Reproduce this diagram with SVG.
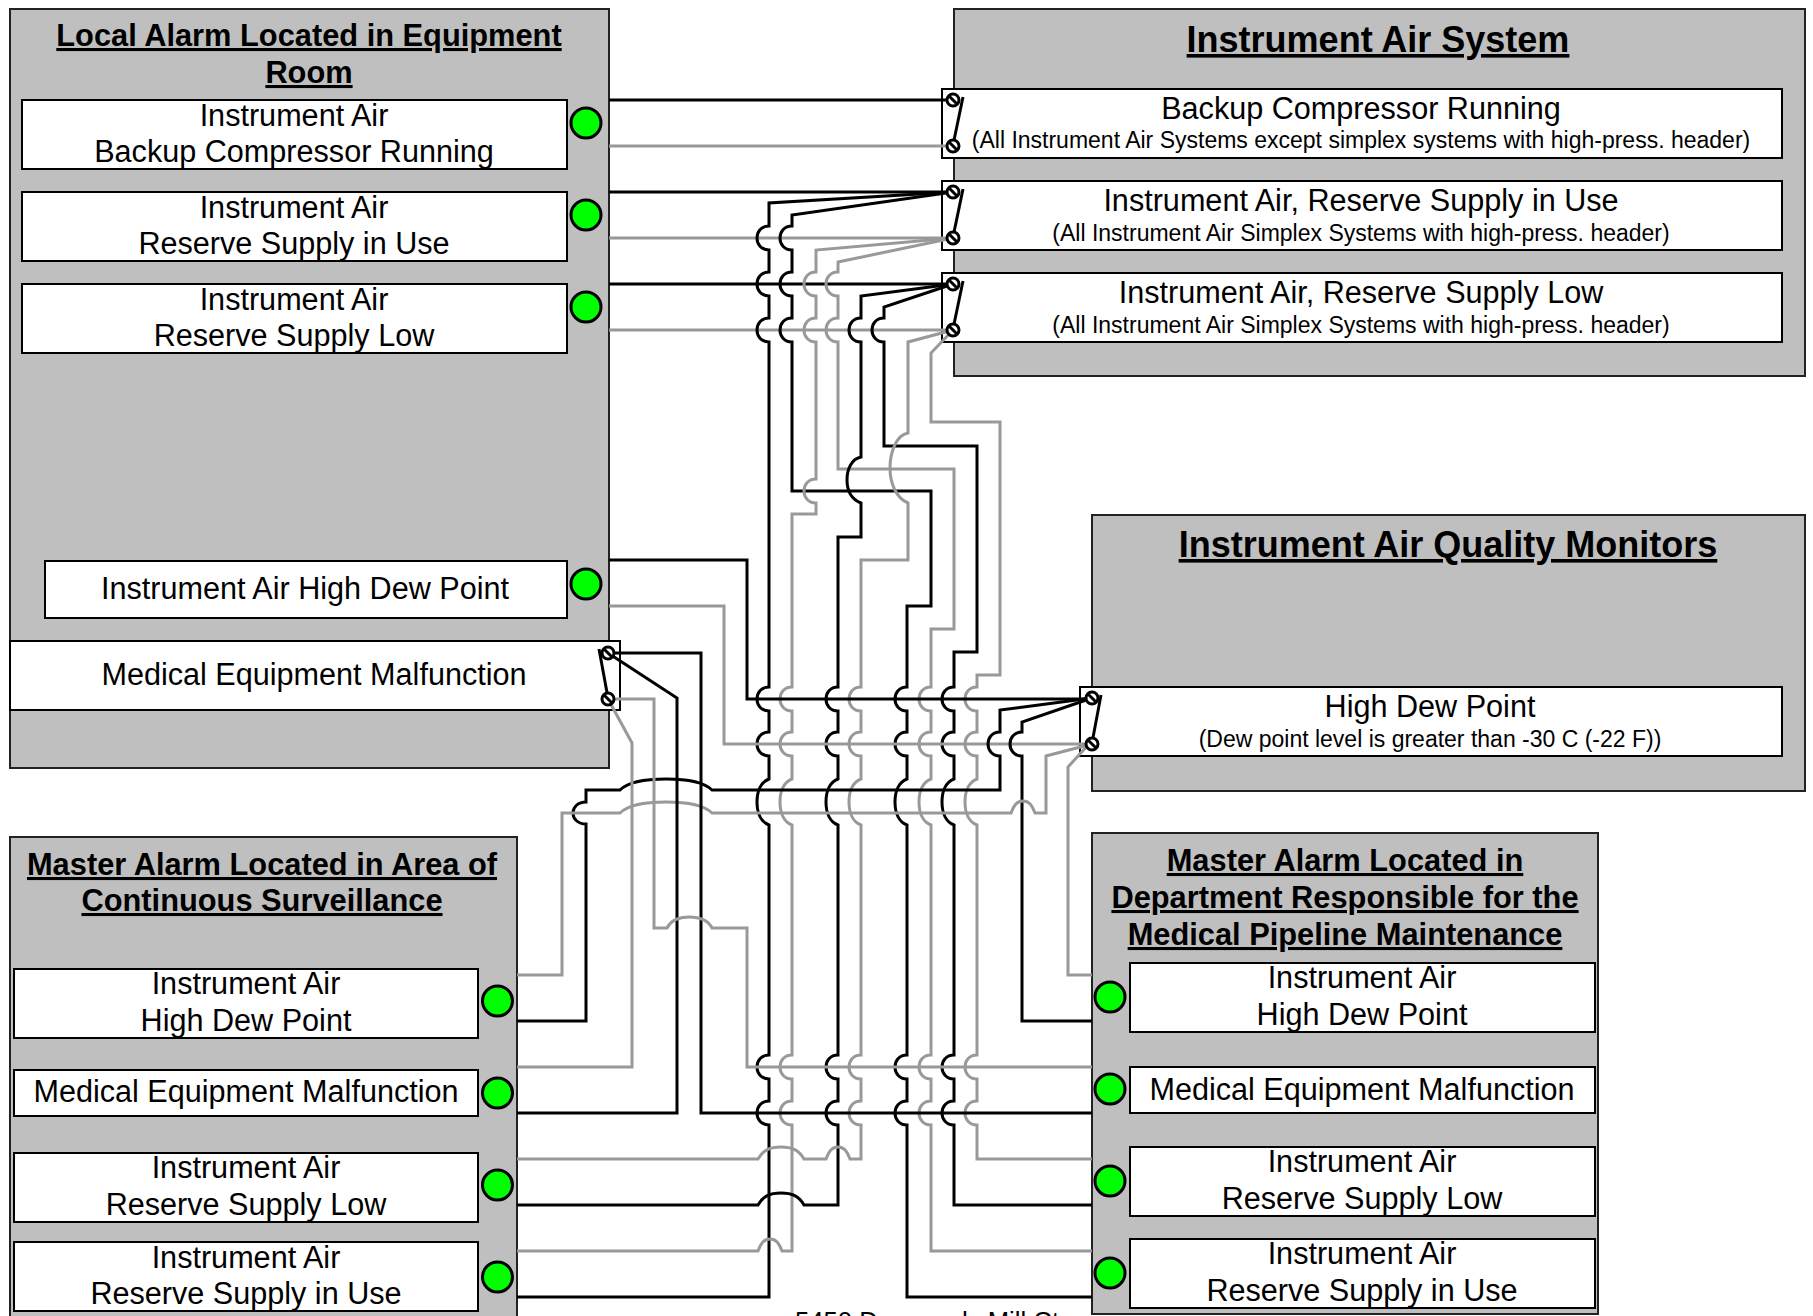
<svg xmlns="http://www.w3.org/2000/svg" width="1813" height="1316" viewBox="0 0 1813 1316">
<style>
text{font-family:"Liberation Sans",Arial,sans-serif;fill:#000;text-anchor:middle}
.l{font-size:30.6px}
.s{font-size:23px}
.t{font-size:30.800px;font-weight:bold;text-decoration:underline}
.T{font-size:36px;font-weight:bold;text-decoration:underline}
.p{fill:#bfbfbf;stroke:#222;stroke-width:2}
.b{fill:#fff;stroke:#000;stroke-width:2}
.k{fill:none;stroke:#000;stroke-width:3}
.g{fill:none;stroke:#999;stroke-width:3}
.d{fill:#0f0;stroke:#000;stroke-width:3}
.c{fill:#fff;stroke:#000;stroke-width:3}
.w{fill:none;stroke:#000;stroke-width:3}
</style>
<defs>
<g id="sw"><circle r="6" class="c"/><path d="M-4.500,-4.500L4.500,4.500" class="w"/></g>
</defs>
<rect width="1813" height="1316" fill="#fff"/>
<g id="local-alarm">
<rect class="p" x="10" y="9" width="599" height="759"/>
<text class="t" x="309" y="46">Local Alarm Located in Equipment</text>
<text class="t" x="309" y="83">Room</text>
<rect class="b" x="22" y="100" width="545" height="69"/>
<text class="l" x="294" y="126">Instrument Air</text><text class="l" x="294" y="162">Backup Compressor Running</text>
<circle class="d" cx="586" cy="123" r="15"/>
<rect class="b" x="22" y="192" width="545" height="69"/>
<text class="l" x="294" y="218">Instrument Air</text><text class="l" x="294" y="254">Reserve Supply in Use</text>
<circle class="d" cx="586" cy="215" r="15"/>
<rect class="b" x="22" y="284" width="545" height="69"/>
<text class="l" x="294" y="310">Instrument Air</text><text class="l" x="294" y="346">Reserve Supply Low</text>
<circle class="d" cx="586" cy="307" r="15"/>
<rect class="b" x="45" y="561" width="522" height="57"/>
<text class="l" x="305" y="599">Instrument Air High Dew Point</text>
<circle class="d" cx="586" cy="584" r="15"/>
<rect class="b" x="10" y="641" width="610" height="69"/>
<text class="l" x="314" y="685">Medical Equipment Malfunction</text>
</g>
<g id="instrument-air-system">
<rect class="p" x="954" y="9" width="851" height="367"/>
<text class="T" x="1378" y="52">Instrument Air System</text>
<rect class="b" x="942" y="89" width="840" height="69"/>
<text class="l" x="1361" y="119">Backup Compressor Running</text>
<text class="s" x="1361" y="148">(All Instrument Air Systems except simplex systems with high-press. header)</text>
<rect class="b" x="942" y="181" width="840" height="69"/>
<text class="l" x="1361" y="211">Instrument Air, Reserve Supply in Use</text>
<text class="s" x="1361" y="241">(All Instrument Air Simplex Systems with high-press. header)</text>
<rect class="b" x="942" y="273" width="840" height="69"/>
<text class="l" x="1361" y="303">Instrument Air, Reserve Supply Low</text>
<text class="s" x="1361" y="333">(All Instrument Air Simplex Systems with high-press. header)</text>
</g>
<g id="quality-monitors">
<rect class="p" x="1092" y="515" width="713" height="276"/>
<text class="T" x="1448" y="557">Instrument Air Quality Monitors</text>
<rect class="b" x="1080" y="687" width="702" height="69"/>
<text class="l" x="1430" y="717">High Dew Point</text>
<text class="s" x="1430" y="747">(Dew point level is greater than -30 C (-22 F))</text>
</g>
<g id="master-left">
<rect class="p" x="10" y="837" width="507" height="490"/>
<text class="t" x="262" y="875">Master Alarm Located in Area of</text>
<text class="t" x="262" y="911">Continuous Surveillance</text>
<rect class="b" x="14" y="969" width="464" height="69"/>
<text class="l" x="246" y="994">Instrument Air</text><text class="l" x="246" y="1031">High Dew Point</text>
<circle class="d" cx="497.500" cy="1001" r="15"/>
<rect class="b" x="14" y="1070" width="464" height="46"/>
<text class="l" x="246" y="1102">Medical Equipment Malfunction</text>
<circle class="d" cx="497.500" cy="1093" r="15"/>
<rect class="b" x="14" y="1153" width="464" height="69"/>
<text class="l" x="246" y="1178">Instrument Air</text><text class="l" x="246" y="1215">Reserve Supply Low</text>
<circle class="d" cx="497.500" cy="1185" r="15"/>
<rect class="b" x="14" y="1242" width="464" height="69"/>
<text class="l" x="246" y="1268">Instrument Air</text><text class="l" x="246" y="1304">Reserve Supply in Use</text>
<circle class="d" cx="497.500" cy="1277" r="15"/>
</g>
<g id="master-right">
<rect class="p" x="1092" y="833" width="506" height="481"/>
<text class="t" x="1345" y="871">Master Alarm Located in</text>
<text class="t" x="1345" y="908">Department Responsible for the</text>
<text class="t" x="1345" y="945">Medical Pipeline Maintenance</text>
<rect class="b" x="1130" y="963" width="465" height="69"/>
<text class="l" x="1362" y="988">Instrument Air</text><text class="l" x="1362" y="1025">High Dew Point</text>
<circle class="d" cx="1110" cy="997" r="15"/>
<rect class="b" x="1130" y="1067" width="465" height="46"/>
<text class="l" x="1362" y="1100">Medical Equipment Malfunction</text>
<circle class="d" cx="1110" cy="1089" r="15"/>
<rect class="b" x="1130" y="1147" width="465" height="69"/>
<text class="l" x="1362" y="1172">Instrument Air</text><text class="l" x="1362" y="1209">Reserve Supply Low</text>
<circle class="d" cx="1110" cy="1181" r="15"/>
<rect class="b" x="1130" y="1239" width="465" height="69"/>
<text class="l" x="1362" y="1264">Instrument Air</text><text class="l" x="1362" y="1301">Reserve Supply in Use</text>
<circle class="d" cx="1110" cy="1273" r="15"/>
</g>
<g id="address"><text x="927" y="1330" style="font-size:25.7px">5450 Dunwoody Mill Ct</text></g>
<g id="connectors">
<path class="k" d="M609,100H953"/>
<path class="g" d="M609,146H953"/>
<path class="k" d="M609,192H953"/>
<path class="g" d="M609,238H953"/>
<path class="k" d="M609,284H953"/>
<path class="g" d="M609,330H953"/>
<path class="k" d="M953,192L769,203V226c-8,0-12,6-12,12 0,6 4,12 12,12V272c-8,0-12,6-12,12 0,6 4,12 12,12V318c-8,0-12,6-12,12 0,6 4,12 12,12V687c-8,0-12,6-12,12 0,6 4,12 12,12V732c-8,0-12,6-12,12 0,6 4,12 12,12V779c-8,3-12,12-12,23 0,11 4,20 12,23V1055c-8,0-12,6-12,12 0,6 4,12 12,12V1101c-8,0-12,6-12,12 0,6 4,12 12,12V1297H517"/>
<path class="k" d="M953,192L792,215V226c-8,0-12,6-12,12 0,6 4,12 12,12V272c-8,0-12,6-12,12 0,6 4,12 12,12V318c-8,0-12,6-12,12 0,6 4,12 12,12V491H931V606H907V687c-8,0-12,6-12,12 0,6 4,12 12,12V732c-8,0-12,6-12,12 0,6 4,12 12,12V779c-8,3-12,12-12,23 0,11 4,20 12,23V1055c-8,0-12,6-12,12 0,6 4,12 12,12V1101c-8,0-12,6-12,12 0,6 4,12 12,12V1297H1092"/>
<path class="g" d="M953,238L816,250V272c-8,0-12,6-12,12 0,6 4,12 12,12V318c-8,0-12,6-12,12 0,6 4,12 12,12V479c-8,0-12,6-12,12 0,6 4,12 12,12V514H792V687c-8,0-12,6-12,12 0,6 4,12 12,12V732c-8,0-12,6-12,12 0,6 4,12 12,12V779c-8,3-12,12-12,23 0,11 4,20 12,23V1055c-8,0-12,6-12,12 0,6 4,12 12,12V1101c-8,0-12,6-12,12 0,6 4,12 12,12V1251H782c-3,-8-6,-12-12,-12s-9,4-12,12H517"/>
<path class="g" d="M953,238L838,262V272c-8,0-12,6-12,12 0,6 4,12 12,12V318c-8,0-12,6-12,12 0,6 4,12 12,12V469H954V629H931V687c-8,0-12,6-12,12 0,6 4,12 12,12V732c-8,0-12,6-12,12 0,6 4,12 12,12V779c-8,3-12,12-12,23 0,11 4,20 12,23V1055c-8,0-12,6-12,12 0,6 4,12 12,12V1101c-8,0-12,6-12,12 0,6 4,12 12,12V1251H1092"/>
<path class="k" d="M953,284L861,296V318c-8,0-12,6-12,12 0,6 4,12 12,12V457c-10,2-14,13-14,23 0,10 4,19 14,23V537H838V687c-8,0-12,6-12,12 0,6 4,12 12,12V732c-8,0-12,6-12,12 0,6 4,12 12,12V779c-8,3-12,12-12,23 0,11 4,20 12,23V1055c-8,0-12,6-12,12 0,6 4,12 12,12V1101c-8,0-12,6-12,12 0,6 4,12 12,12V1205H804c-5,-9-12,-12-23,-12s-18,3-23,12H517"/>
<path class="k" d="M953,284L884,307V318c-8,0-12,6-12,12 0,6 4,12 12,12V446H977V652H954V687c-8,0-12,6-12,12 0,6 4,12 12,12V732c-8,0-12,6-12,12 0,6 4,12 12,12V779c-8,3-12,12-12,23 0,11 4,20 12,23V1055c-8,0-12,6-12,12 0,6 4,12 12,12V1101c-8,0-12,6-12,12 0,6 4,12 12,12V1205H1092"/>
<path class="g" d="M953,330L908,342V433c-12,2-18,20-18,35 0,15 6,30 18,35V560H861V687c-8,0-12,6-12,12 0,6 4,12 12,12V732c-8,0-12,6-12,12 0,6 4,12 12,12V779c-8,3-12,12-12,23 0,11 4,20 12,23V1055c-8,0-12,6-12,12 0,6 4,12 12,12V1101c-8,0-12,6-12,12 0,6 4,12 12,12V1159H850c-3,-8-6,-12-12,-12s-9,4-12,12H804c-5,-9-12,-12-23,-12s-18,3-23,12H517"/>
<path class="g" d="M953,330L931,353V422H1000V675H977V687c-8,0-12,6-12,12 0,6 4,12 12,12V732c-8,0-12,6-12,12 0,6 4,12 12,12V779c-8,3-12,12-12,23 0,11 4,20 12,23V1055c-8,0-12,6-12,12 0,6 4,12 12,12V1101c-8,0-12,6-12,12 0,6 4,12 12,12V1159H1092"/>
<path class="k" d="M609,560H747V699H1092"/>
<path class="g" d="M609,606H724V744H1092"/>
<path class="k" d="M1092,698L1000,710V732c-8,0-12,6-12,12 0,6 4,12 12,12V790H712c-8,-8-25,-11-46,-11s-38,3-46,11H586V802c-8,0-13,5-13,11 0,6 5,11 13,11V1021H517"/>
<path class="k" d="M1092,698L1022,722V732c-8,0-12,6-12,12 0,6 4,12 12,12V1021H1092"/>
<path class="g" d="M1088,745L1046,756V813H1035c-3,-8-6,-12-12,-12s-9,4-12,12H712c-8,-8-25,-11-46,-11s-38,3-46,11H562V975H517"/>
<path class="g" d="M1088,745L1068,767V975H1092"/>
<path class="k" d="M608,653H701V1113H1092"/>
<path class="k" d="M608,653L677,698V1113H517"/>
<path class="g" d="M608,699H654V928H667c4,-8 12,-11 22,-11s19,3 23,11H747V1067H1092"/>
<path class="g" d="M608,699L632,743V1067H517"/>
</g>
<g id="switches">
<path class="w" d="M963,97L953,145"/><use href="#sw" x="953" y="100"/><use href="#sw" x="953" y="146"/>
<path class="w" d="M963,189L953,237"/><use href="#sw" x="953" y="192"/><use href="#sw" x="953" y="238"/>
<path class="w" d="M963,281L953,329"/><use href="#sw" x="953" y="284"/><use href="#sw" x="953" y="330"/>
<path class="w" d="M1101,695L1092,743"/><use href="#sw" x="1092" y="698"/><use href="#sw" x="1092" y="744"/>
<path class="w" d="M599,649L608,698"/><use href="#sw" x="608" y="653"/><use href="#sw" x="608" y="699"/>
</g>
</svg>
